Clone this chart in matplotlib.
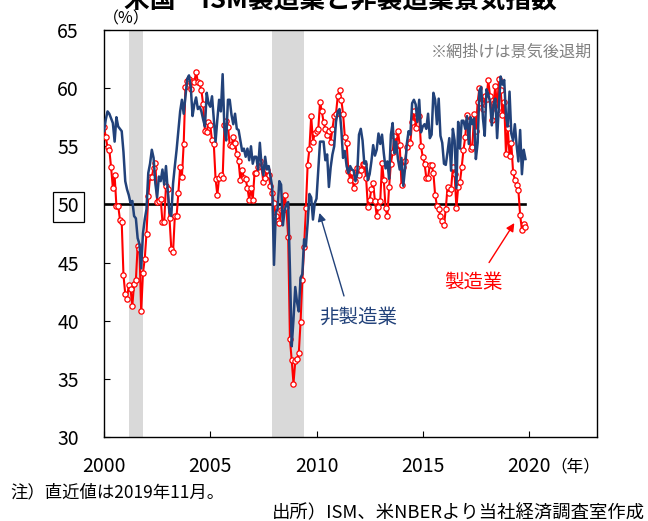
import numpy as np
import matplotlib
matplotlib.use("Agg")
import matplotlib.pyplot as plt

plt.rcParams['font.family'] = ['Noto Sans CJK JP', 'DejaVu Sans']

start_year = 2000
manufacturing = [
    56.7, 55.8, 54.9, 54.7, 53.2, 51.4, 52.5, 49.9, 49.9, 48.7, 48.5, 43.9,
    42.3, 41.9, 43.1, 42.7, 41.3, 43.2, 43.5, 46.4, 46.2, 40.8, 44.1, 45.3,
    47.5, 50.7, 52.4, 52.4, 53.1, 53.6, 50.2, 50.3, 50.5, 48.5, 48.5, 51.6,
    51.3, 48.8, 46.2, 45.9, 49.0, 49.0, 51.0, 53.2, 52.4, 55.2, 60.1, 60.6,
    60.8, 59.9, 60.6, 60.5, 61.4, 60.5, 60.4, 59.8, 58.6, 56.3, 56.2, 57.1,
    56.8, 55.5, 55.2, 52.2, 50.8, 52.3, 52.5, 52.3, 56.8, 57.2, 56.7, 55.1,
    55.0, 55.8, 55.3, 54.3, 53.7, 52.1, 53.0, 52.3, 52.2, 51.4, 50.4, 51.4,
    50.4, 52.7, 52.7, 53.2, 53.7, 53.2, 51.9, 52.3, 53.0, 52.5, 51.6, 51.0,
    50.1, 49.0, 48.6, 48.4, 49.5, 49.5, 50.8, 49.8, 47.2, 38.4, 36.6, 34.6,
    36.5, 36.7, 37.2, 39.9, 43.5, 46.3, 49.7, 53.4, 54.8, 57.6, 55.4, 56.1,
    56.3, 56.5, 58.8, 58.0, 57.1, 56.5, 56.0, 56.3, 55.4, 56.5, 57.6, 57.8,
    59.3, 59.8, 59.0, 57.8, 55.8, 55.3, 52.9, 52.1, 52.8, 51.4, 52.0, 53.1,
    52.5, 53.0, 53.5, 53.5, 52.3, 49.8, 50.4, 51.3, 51.8, 50.3, 49.0, 49.8,
    50.3, 53.6, 52.1, 49.7, 49.0, 51.5, 53.5, 54.5, 55.9, 55.0, 56.3, 55.1,
    51.7, 53.2, 53.7, 54.9, 55.4, 55.3, 57.1, 58.0, 56.6, 57.5, 57.6, 55.0,
    54.1, 53.5, 52.3, 52.3, 53.4, 53.4, 52.7, 50.8, 49.9, 49.6, 49.0, 48.6,
    48.2, 49.6, 51.5, 51.0, 51.3, 53.2, 52.6, 49.7, 51.5, 51.9, 53.2, 54.7,
    55.8, 57.7, 57.2, 54.8, 54.9, 57.8, 56.3, 58.8, 60.0, 58.7, 58.2, 59.3,
    59.1, 60.7, 59.3, 57.3, 58.7, 60.2, 58.1, 60.8, 59.8, 57.7, 58.8, 54.3,
    56.6, 54.2, 55.3, 52.8, 52.1, 51.7, 51.2, 49.1, 47.8, 48.3, 48.1,
]
non_manufacturing = [
    56.3, 57.3, 58.0, 57.8, 57.4, 57.0, 55.4, 57.5, 56.7, 56.5, 56.3, 54.5,
    52.0, 51.3, 50.8, 50.1, 50.3, 49.0, 48.8, 47.1, 46.6, 44.5, 47.5, 48.7,
    49.6, 52.7, 53.5, 54.7, 54.0, 51.8, 50.6, 52.4, 52.0, 53.0, 51.7, 53.3,
    51.2, 49.3, 49.0, 51.8, 53.3, 54.7, 56.3, 58.0, 59.0, 57.8, 59.3, 60.8,
    61.1, 60.1, 57.6, 58.6, 59.2, 58.2, 58.4, 58.0, 57.3, 56.7, 59.6, 58.7,
    58.4, 59.3, 57.3, 55.4, 57.3, 59.0, 58.0, 61.2, 56.5, 55.5, 59.0, 59.0,
    57.7, 56.9, 57.8, 56.5, 56.4, 55.5, 54.6, 54.8, 54.1, 54.8, 53.8, 55.0,
    53.5, 54.1, 54.1, 53.0, 55.3, 53.3, 52.5, 54.1, 53.0, 53.3, 52.4, 51.5,
    44.8, 49.3, 49.6, 52.0, 51.7, 48.2, 49.5, 50.0, 50.2, 44.4, 37.8, 40.1,
    42.9, 41.6, 40.8, 43.7, 44.0, 47.0, 46.4, 48.4, 50.9, 50.6, 48.7, 50.1,
    50.5, 53.0, 55.4, 55.4, 55.4, 53.8, 54.3, 51.5, 53.2, 54.3, 55.0, 57.1,
    58.0, 58.2, 56.5, 54.0, 54.6, 53.3, 52.7, 53.3, 53.0, 52.9, 52.0, 52.6,
    56.0, 56.5, 55.5, 53.5, 53.7, 52.1, 52.6, 53.7, 55.1, 54.2, 54.7, 56.1,
    55.2, 56.0, 54.4, 53.1, 53.7, 52.2, 56.0, 57.0, 54.4, 55.4, 53.9, 53.0,
    54.0, 51.6, 53.1, 55.2, 56.3, 56.0, 58.7, 59.0, 58.6, 57.1, 59.0, 56.2,
    56.7, 56.9, 56.5, 57.8, 55.7, 56.0, 59.6, 59.0, 56.9, 59.1, 55.9, 55.3,
    53.5, 53.4, 54.5, 55.7, 52.9, 56.5, 55.5, 51.4, 57.1, 54.8, 57.2, 57.2,
    56.5, 57.6, 55.2, 57.5, 56.9, 57.4, 53.9, 55.3, 59.8, 60.1, 57.4, 55.9,
    59.9, 59.5, 58.8, 56.8, 58.6, 59.1, 55.7, 58.5, 61.0, 60.3, 60.7, 57.6,
    56.7, 59.7, 56.1, 55.5, 56.9, 55.1, 53.7, 56.4, 52.6, 54.7, 53.9,
]
# recessions (NBER): start and end as (year, month)
recession_starts = [(2001, 3), (2007, 12)]
recession_ends = [(2001, 11), (2009, 6)]
y_ticks = [30, 35, 40, 45, 50, 55, 60, 65]
x_ticks = [2000, 2005, 2010, 2015, 2020]
threshold = 50

t = start_year + np.arange(len(manufacturing)) / 12.0

W, H = 648, 521
fig = plt.figure(figsize=(W / 100, H / 100), dpi=100)
ax = fig.add_axes([104 / W, 1 - 437 / H, (597 - 104) / W, (437 - 30) / H])

for (ys, ms), (ye, me) in zip(recession_starts, recession_ends):
    ax.axvspan(ys + (ms - 1) / 12, ye + (me - 1) / 12, color='#d9d9d9', lw=0, zorder=0)

ax.plot([t[0], t[-1]], [threshold, threshold], color='black', lw=1.9, zorder=2)

ax.plot(t, manufacturing, color='#ff0000', lw=1.5, marker='o', markersize=3.8,
        markerfacecolor='white', markeredgecolor='#ff0000', markeredgewidth=0.9, zorder=3)
ax.plot(t, non_manufacturing, color='#22427a', lw=1.8, zorder=4)

ax.set_xlim(2000, 2000 + (597 - 104) / 21.25)
ax.set_ylim(30, 65)
ax.set_yticks(y_ticks)
ylabels = ax.set_yticklabels([str(v) for v in y_ticks], fontsize=14)
ax.set_xticks(x_ticks)
ax.set_xticklabels([str(v) for v in x_ticks], fontsize=14)
for lab in ylabels:
    if lab.get_text() == str(threshold):
        lab.set_bbox(dict(boxstyle='square,pad=0.25', fc='white', ec='black', lw=0.9))
ax.tick_params(axis='y', direction='in', length=4, pad=18, width=0.8)
ax.tick_params(axis='x', direction='in', length=4, pad=14, width=0.8)
for s in ax.spines.values():
    s.set_linewidth(1.0)
    s.set_color('black')

ax.text(0.99, 0.965, '※網掛けは景気後退期', transform=ax.transAxes, ha='right', va='top',
        fontsize=11.6, color='#808080')

ax.annotate('', xy=(2010.10, 49.5), xytext=(2011.33, 41.9),
            arrowprops=dict(arrowstyle='-|>', color='#22427a', lw=1.0, mutation_scale=12))
ax.text(2011.95, 40.3, '非製造業', color='#22427a', fontsize=14, ha='center', va='center')
ax.annotate('', xy=(2019.38, 48.6), xytext=(2018.05, 44.8),
            arrowprops=dict(arrowstyle='-|>', color='#ff0000', lw=1.0, mutation_scale=12))
ax.text(2017.4, 43.3, '製造業', color='#ff0000', fontsize=14, ha='center', va='center')

fig.text(126 / W, 1 - 19 / H, '（%）', fontsize=11.5, ha='center', va='center')
fig.text(575 / W, 1 - 467 / H, '（年）', fontsize=12, ha='center', va='center')
fig.text(340 / W, 1 - 8 / H, '米国　ISM製造業と非製造業景気指数', fontsize=18.5,
         fontweight='bold', ha='center', va='baseline')
fig.text(10 / W, 1 - 492 / H, '注）直近値は2019年11月。', fontsize=12.5, ha='left', va='center')
fig.text(645 / W, 1 - 513 / H, '出所）ISM、米NBERより当社経済調査室作成', fontsize=13.2,
         ha='right', va='center')

fig.savefig('out.png', dpi=100)
